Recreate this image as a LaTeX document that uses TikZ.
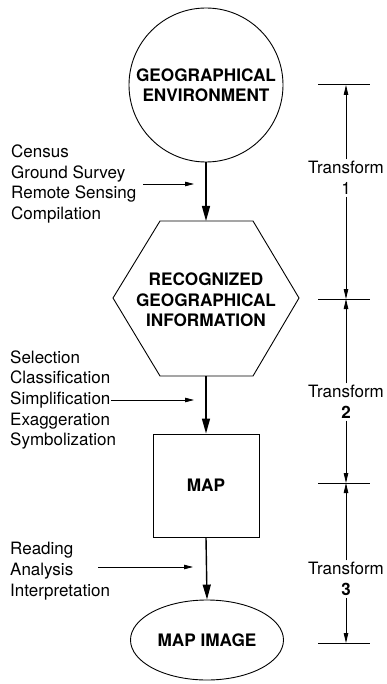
\documentclass[tikz,border=0pt]{standalone}
\usepackage{fontspec}
\setmainfont{TeX Gyre Heros}
\usetikzlibrary{arrows.meta,shapes.geometric}
\tikzset{
  shapeline/.style={draw=black, line width=0.9pt},
  shapetext/.style={font=\fontsize{17.2}{20.3}\selectfont\bfseries, align=center},
  labeltext/.style={font=\fontsize{17}{20.7}\selectfont, align=left, anchor=west, inner sep=0pt},
  transtext/.style={font=\fontsize{17}{20.5}\selectfont, align=center, inner sep=2pt},
  mainarrow/.style={line width=1.4pt, -{Triangle[length=15pt,width=8pt]}},
  inarrow/.style={line width=0.8pt, -{Triangle[length=9pt,width=4.5pt]}},
  transarrow/.style={line width=0.8pt, -{Triangle[length=10pt,width=4.5pt]}},
  bar/.style={line width=1pt}
}
\begin{document}
\begin{tikzpicture}[x=1pt,y=-1pt]
\useasboundingbox (0,0) rectangle (387,684);
% main shapes
\node[shapeline, circle, minimum size=154pt, inner sep=0pt, shapetext] (geo) at (206,85) {GEOGRAPHICAL\\ENVIRONMENT};
\coordinate (hexT) at (206,221);
\coordinate (hexB) at (206,376);
\draw[shapeline] (160,221) -- (253,221) -- (299,298) -- (253,376) -- (160,376) -- (113,298) -- cycle;
\node[shapetext] (hex) at (206,300) {RECOGNIZED\\GEOGRAPHICAL\\INFORMATION};
\node[shapeline, rectangle, minimum width=106pt, minimum height=103pt, inner sep=0pt, shapetext] (map) at (206,485.5) {MAP};
\node[shapeline, ellipse, minimum width=153pt, minimum height=80pt, inner sep=0pt, shapetext] (img) at (207,640) {MAP IMAGE};
% main arrows
\draw[mainarrow] (geo.south) -- (hexT);
\draw[mainarrow] (hexB) -- (map.north);
\draw[mainarrow] (map.south) -- (img.north);
% left labels
\node[labeltext] (in1) at (11,184) {Census\\Ground Survey\\Remote Sensing\\Compilation};
\coordinate (in1s) at (143,184);
\coordinate (in1e) at (194,184);
\draw[inarrow] (in1s) -- (in1e);
\node[labeltext] (in2) at (10,400) {Selection\\Classification\\Simplification\\Exaggeration\\Symbolization};
\coordinate (in2s) at (111,400);
\coordinate (in2e) at (194,400);
\draw[inarrow] (in2s) -- (in2e);
\node[labeltext] (in3) at (10,571) {Reading\\Analysis\\Interpretation};
\coordinate (in3s) at (98,567);
\coordinate (in3e) at (193,567);
\draw[inarrow] (in3s) -- (in3e);
% right bars
\coordinate (b1) at (346,85);
\coordinate (b2) at (346,299);
\coordinate (b3) at (346,483);
\coordinate (b4) at (346,643);
\draw[bar] (318,85) -- (370,85);
\draw[bar] (318,299) -- (370,299);
\draw[bar] (318,483) -- (370,483);
\draw[bar] (318,643) -- (370,643);
% transform labels
\node[transtext] (t1) at (346,178) {Transform\\1};
\node[transtext] (t2) at (346,402) {Transform\\\textbf{2}};
\node[transtext] (t3) at (346,579) {Transform\\\textbf{3}};
\draw[transarrow] (t1.north) -- (b1);
\draw[transarrow] (t1.south) -- (b2);
\draw[transarrow] (t2.north) -- (b2);
\draw[transarrow] (t2.south) -- (b3);
\draw[transarrow] (t3.north) -- (b3);
\draw[transarrow] (t3.south) -- (b4);
\end{tikzpicture}
\end{document}
